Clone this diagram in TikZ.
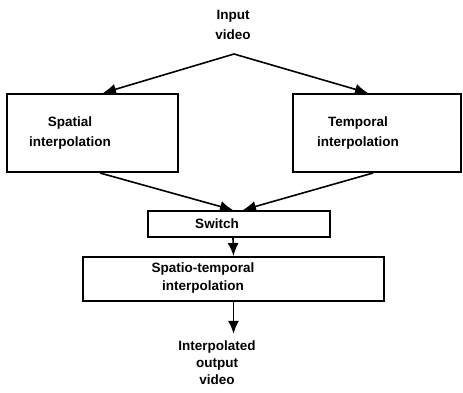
\documentclass[tikz,border=0pt]{standalone}
\usepackage{fontspec}
\setmainfont{Liberation Sans}
\usetikzlibrary{arrows.meta}

\begin{document}
\begin{tikzpicture}[x=1pt,y=-1pt,
    blockbox/.style={draw,line width=2pt,inner sep=0pt},
    blocktext/.style={font=\bfseries\fontsize{13.5}{20}\selectfont,align=center,inner sep=0pt},
    flow/.style={line width=1.6pt,-{Latex[length=13pt,width=11pt]}}]
  \useasboundingbox (0,0) rectangle (463,392);
  % --------------------------
  % the input and the fork
  % --------------------------
  \node[blocktext] (input) at (233,25) {Input\\video};
  \coordinate (fork) at (234,54);
  % --------------------------
  % the two interpolation blocks
  % --------------------------
  \node[blockbox,minimum width=171pt,minimum height=78pt] (spatial) at (92.5,133) {};
  \node[blocktext] (spatialtext) at (70,133) {Spatial\\interpolation};
  \node[blockbox,minimum width=168pt,minimum height=78pt] (temporal) at (376.5,133) {};
  \node[blocktext] (temporaltext) at (358,133) {Temporal\\interpolation};
  % --------------------------
  % switch and combined block
  % --------------------------
  \node[blockbox,minimum width=182pt,minimum height=26pt] (switch) at (239,224) {};
  \node[blocktext] (switchtext) at (217,224) {Switch};
  \node[blockbox,minimum width=301pt,minimum height=44pt] (spatio) at (233.5,279) {};
  \node[blocktext,font=\bfseries\fontsize{13.5}{18}\selectfont] (spatiotext) at (203,278) {Spatio-temporal\\interpolation};
  \node[blocktext,font=\bfseries\fontsize{13.5}{17}\selectfont] (output) at (217,363) {Interpolated\\output\\video};
  % --------------------------
  % the connectors
  % --------------------------
  \draw[flow] (fork) -- ([xshift=10.5pt]spatial.north);
  \draw[flow] (fork) -- ([xshift=-8.5pt]temporal.north);
  \draw[flow] ([xshift=7.5pt]spatial.south) -- ([xshift=-6pt]switch.north);
  \draw[flow] ([xshift=-3.5pt]temporal.south) -- ([xshift=4pt]switch.north);
  \draw[flow] ([xshift=-6pt]switch.south) -- (spatio.north);
  \draw[flow] (spatio.south) -- ([yshift=7pt]spatio.south |- output.north);
\end{tikzpicture}
\end{document}
